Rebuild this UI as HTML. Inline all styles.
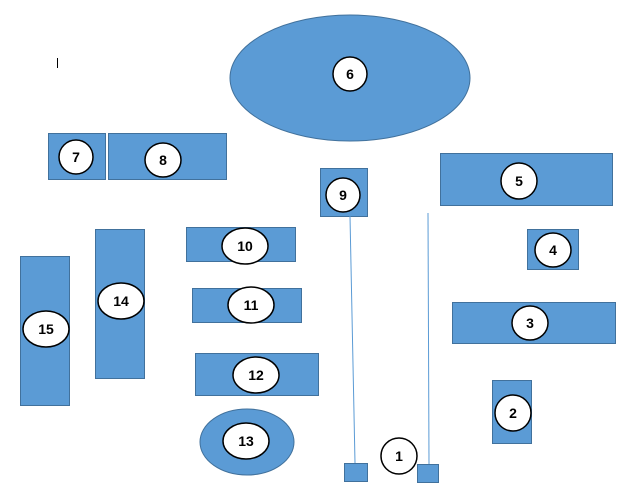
<!DOCTYPE html>
<html><head><meta charset="utf-8"><style>html,body{margin:0;padding:0;background:#fff;}svg{display:block}</style></head>
<body>
<svg width="630" height="489" viewBox="0 0 630 489" xmlns="http://www.w3.org/2000/svg" font-family="Liberation Sans, sans-serif">
<g fill="#5b9bd5" stroke="#41719c" stroke-width="1">
<ellipse cx="350" cy="78" rx="120" ry="63"/>
<rect x="48.5" y="133.5" width="57" height="46"/>
<rect x="108.5" y="133.5" width="118" height="46"/>
<rect x="320.5" y="168.5" width="47" height="48"/>
<rect x="440.5" y="153.5" width="172" height="52"/>
<rect x="527.5" y="229.5" width="51" height="40"/>
<rect x="452.5" y="302.5" width="163" height="41"/>
<rect x="492.5" y="380.5" width="39" height="63"/>
<rect x="186.5" y="227.5" width="109" height="34"/>
<rect x="192.5" y="288.5" width="109" height="34"/>
<rect x="195.5" y="353.5" width="123" height="42"/>
<ellipse cx="247" cy="442" rx="47" ry="33"/>
<rect x="95.5" y="229.5" width="49" height="149"/>
<rect x="20.5" y="256.5" width="49" height="149"/>
<rect x="344.5" y="463.5" width="23" height="18"/>
<rect x="417.5" y="464.5" width="21" height="18"/>
</g>
<g stroke="#5b9bd5" stroke-width="1">
<line x1="350" y1="216" x2="355" y2="463"/>
<line x1="428" y1="213" x2="429" y2="464"/>
</g>
<line x1="57.5" y1="58" x2="57.5" y2="68" stroke="#000"/>
<g fill="#fff" stroke="#000" stroke-width="1.5">
<ellipse cx="350" cy="74" rx="17" ry="17"/>
<ellipse cx="76" cy="157" rx="17" ry="17"/>
<ellipse cx="163" cy="160" rx="18" ry="17"/>
<ellipse cx="343" cy="195" rx="17" ry="17"/>
<ellipse cx="519" cy="181" rx="18" ry="18"/>
<ellipse cx="553" cy="250" rx="18" ry="17"/>
<ellipse cx="530" cy="323" rx="18" ry="17"/>
<ellipse cx="513" cy="413" rx="18" ry="18"/>
<ellipse cx="245" cy="246" rx="23" ry="18"/>
<ellipse cx="251" cy="305" rx="23" ry="18"/>
<ellipse cx="256" cy="375" rx="23" ry="18"/>
<ellipse cx="246" cy="441" rx="23" ry="18"/>
<ellipse cx="121" cy="301" rx="23" ry="18"/>
<ellipse cx="46" cy="329" rx="23" ry="18"/>
<ellipse cx="399" cy="456" rx="18" ry="18"/>
</g>
<g font-size="14" font-weight="bold" text-anchor="middle" fill="#000">
<text x="350" y="79">6</text>
<text x="76" y="162">7</text>
<text x="163" y="165">8</text>
<text x="343" y="200">9</text>
<text x="519" y="186">5</text>
<text x="553" y="255">4</text>
<text x="530" y="328">3</text>
<text x="513" y="418">2</text>
<text x="245" y="251">10</text>
<text x="251" y="310">11</text>
<text x="256" y="380">12</text>
<text x="246" y="446">13</text>
<text x="121" y="306">14</text>
<text x="46" y="334">15</text>
<text x="399" y="461">1</text>
</g>
</svg>
</body></html>
